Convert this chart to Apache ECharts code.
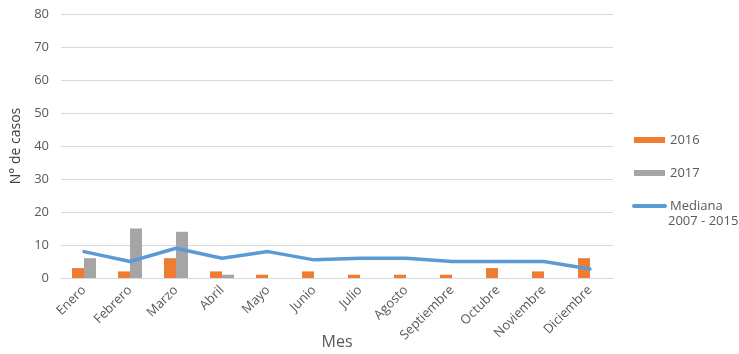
<!DOCTYPE html>
<html>
<head>
<meta charset="utf-8">
<script src="https://cdn.jsdelivr.net/npm/echarts@6/dist/echarts.min.js"></script>
<style>
  html, body { margin: 0; padding: 0; background: #fff; }
  #chart { width: 739px; height: 354px; }
</style>
</head>
<body>
<div id="chart"></div>
<script>
// Monthly case counts
const months = ['Enero', 'Febrero', 'Marzo', 'Abril', 'Mayo', 'Junio', 'Julio', 'Agosto', 'Septiembre', 'Octubre', 'Noviembre', 'Diciembre'];
const cases2016 = [3, 2, 6, 2, 1, 2, 1, 1, 1, 3, 2, 6];
const cases2017 = [6, 15, 14, 1, 0, 0, 0, 0, 0, 0, 0, 0];
const median0715 = [8, 5, 9, 6, 8, 5.5, 6, 6, 5, 5, 5, 2.7];
const yTicks = { min: 0, max: 80, interval: 10 };

const FONT = '"Open Sans", "Liberation Sans", sans-serif';
const TEXT = '#595959';

const chart = echarts.init(document.getElementById('chart'));
chart.setOption({
  animation: false,
  textStyle: { fontFamily: FONT },
  grid: { left: 61, right: 126, top: 14, bottom: 76, containLabel: false, outerBoundsMode: 'none' },
  legend: {
    orient: 'vertical',
    left: 627,
    top: 127,
    itemWidth: 31,
    itemHeight: 6,
    itemGap: 17,
    textStyle: { fontFamily: FONT, fontSize: 13, color: TEXT, lineHeight: 16 },
    data: [
      { name: '2016', icon: 'rect' },
      { name: '2017', icon: 'rect' },
      { name: 'Mediana', itemStyle: { opacity: 0 }, lineStyle: { width: 4, cap: 'round' } }
    ]
  },
  graphic: [{
    type: 'text',
    left: 668,
    top: 215,
    style: { text: '2007 - 2015', font: '13px ' + FONT, fill: TEXT }
  }],
  xAxis: {
    type: 'category',
    data: months,
    name: 'Mes',
    nameLocation: 'middle',
    nameGap: 56,
    nameMoveOverlap: false,
    nameTextStyle: { fontSize: 16, color: TEXT, fontFamily: FONT },
    axisLine: { lineStyle: { color: '#d9d9d9', width: 1 } },
    axisTick: { show: false },
    axisLabel: { rotate: 45, fontSize: 13, color: TEXT, margin: 10, fontFamily: FONT }
  },
  yAxis: {
    type: 'value',
    min: yTicks.min,
    max: yTicks.max,
    interval: yTicks.interval,
    name: 'N° de casos',
    nameLocation: 'middle',
    nameGap: 38,
    nameMoveOverlap: false,
    nameTextStyle: { fontSize: 14, color: '#404040', fontFamily: FONT },
    axisLine: { show: false },
    axisTick: { show: false },
    axisLabel: { fontSize: 13, color: TEXT, margin: 12, fontFamily: FONT },
    splitLine: { lineStyle: { color: '#d9d9d9', width: 1 } }
  },
  series: [
    {
      name: '2016',
      type: 'bar',
      data: cases2016,
      barWidth: 12,
      barGap: '0%',
      itemStyle: { color: '#ED7D31' }
    },
    {
      name: '2017',
      type: 'bar',
      data: cases2017,
      barWidth: 12,
      itemStyle: { color: '#A5A5A5' }
    },
    {
      name: 'Mediana',
      type: 'line',
      data: median0715,
      symbol: 'none',
      lineStyle: { color: '#5B9BD5', width: 3.5, cap: 'round', join: 'round' },
      itemStyle: { color: '#5B9BD5' }
    }
  ]
});
</script>
</body>
</html>
